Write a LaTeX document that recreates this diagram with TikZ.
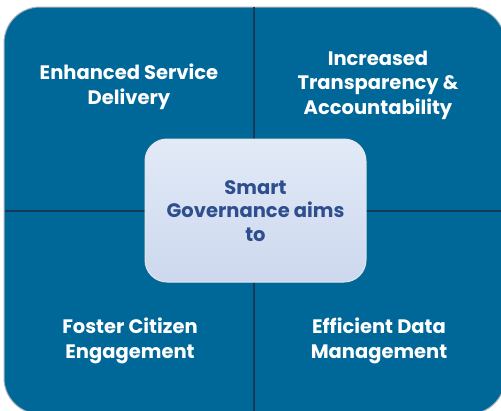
\documentclass[tikz,border=0pt]{standalone}
\usepackage{fontspec}
\setmainfont{Poppins}
\definecolor{quadblue}{RGB}{0,104,152}
\definecolor{divline}{RGB}{22,58,88}
\definecolor{centertop}{RGB}{226,234,247}
\definecolor{centerbot}{RGB}{205,216,238}
\definecolor{centertext}{RGB}{46,78,142}
\definecolor{rimgray}{RGB}{170,178,186}
\begin{document}
\begin{tikzpicture}[x=1pt,y=-1pt,
  quadtext/.style={text=white,align=center,font=\fontsize{19.5}{24.5}\selectfont\bfseries},
  centertextstyle/.style={text=centertext,align=center,font=\fontsize{19.5}{23.5}\selectfont\bfseries},
  divider/.style={draw=divline,line width=1.4pt}]
\useasboundingbox (0,0) rectangle (501,410);
\fill[white] (0,0) rectangle (501,410);
% outer quadrant block
\draw[fill=quadblue,draw=rimgray,line width=1pt,rounded corners=36pt] (4,7) rectangle (505,414);
% dividers
\coordinate (vt) at (254,7);
\coordinate (vb) at (254,414);
\coordinate (hl) at (4.5,211);
\coordinate (hr) at (505,211);
\draw[divider] (vt) -- (vb);
\draw[divider] (hl) -- (hr);
% center box
\draw[top color=centertop,bottom color=centerbot,draw=white!80!gray,line width=1pt,rounded corners=22pt]
  (145,139) rectangle (366,282);
\node[centertextstyle] (center) at (255.5,211) {Smart\\Governance aims\\to};
% quadrant texts
\node[quadtext] (tl) at (129,87) {Enhanced Service\\Delivery};
\node[quadtext] (tr) at (378,85) {Increased\\Transparency \&\\Accountability};
\node[quadtext] (bl) at (130,341) {Foster Citizen\\Engagement};
\node[quadtext] (br) at (379,341) {Efficient Data\\Management};
\end{tikzpicture}
\end{document}
